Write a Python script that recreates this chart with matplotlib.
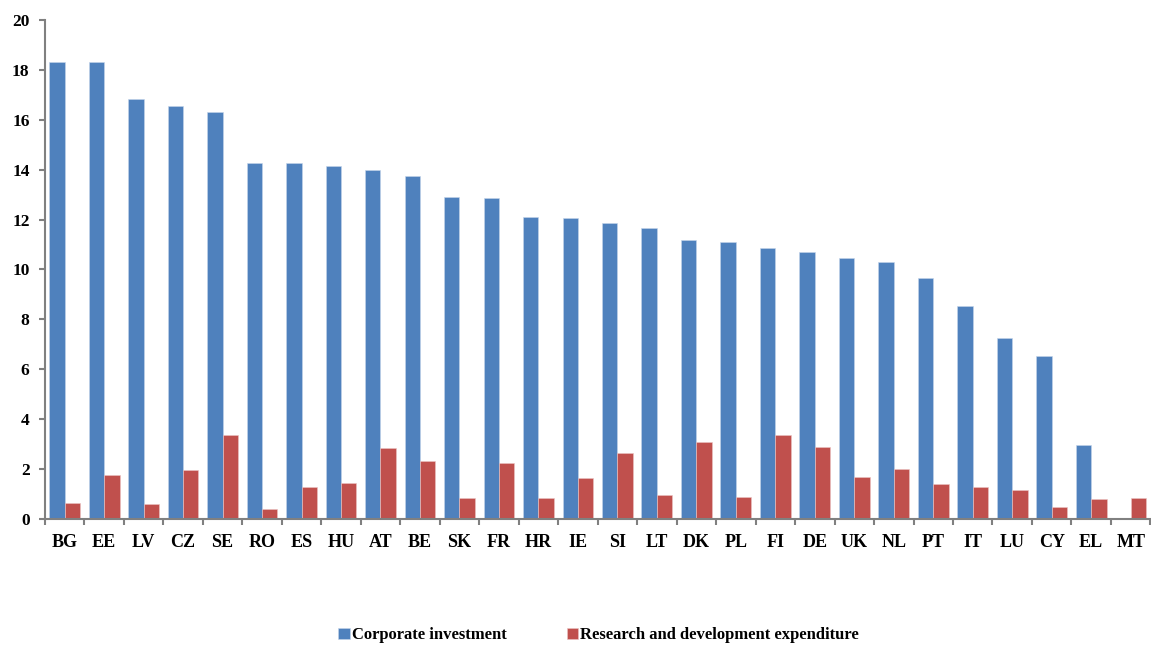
import numpy as np
import matplotlib.pyplot as plt

# 国家代码与两组数值
countries = ["BG", "EE", "LV", "CZ", "SE", "RO", "ES", "HU", "AT", "BE", "SK", "FR", "HR", "IE",
             "SI", "LT", "DK", "PL", "FI", "DE", "UK", "NL", "PT", "IT", "LU", "CY", "EL", "MT"]
corporate_investment = [18.3, 18.3, 16.85, 16.55, 16.3, 14.25, 14.25, 14.15, 14.0, 13.75, 12.9, 12.85, 12.1, 12.05,
                        11.85, 11.65, 11.2, 11.1, 10.85, 10.7, 10.45, 10.3, 9.65, 8.55, 7.25, 6.55, 2.95, 0.0]
rd_expenditure = [0.64, 1.75, 0.60, 1.95, 3.37, 0.38, 1.26, 1.44, 2.86, 2.32, 0.84, 2.26, 0.84, 1.62,
                  2.63, 0.97, 3.10, 0.89, 3.37, 2.90, 1.66, 1.99, 1.38, 1.29, 1.16, 0.47, 0.79, 0.84]
y_ticks = [0, 2, 4, 6, 8, 10, 12, 14, 16, 18, 20]

plt.rcParams['font.family'] = ['Liberation Serif', 'DejaVu Serif']
plt.rcParams['font.weight'] = 'bold'

fig = plt.figure(figsize=(11.51, 6.47), dpi=100)
ax = fig.add_axes([0.039, 0.198, 0.9605, 0.771])

x = np.arange(len(countries))
w = 0.39
ax.bar(x - w / 2, corporate_investment, width=w, color='#4F81BD', edgecolor='#C5D5EA', linewidth=0.4,
       label="Corporate investment")
ax.bar(x + w / 2, rd_expenditure, width=w, color='#C0504D', edgecolor='#EBC5C4', linewidth=0.4,
       label="Research and development expenditure")

ax.set_xlim(-0.5, len(countries) - 0.5)
ax.set_ylim(0, 20)
ax.set_yticks(y_ticks)
ax.set_xticks(x)
ax.set_xticklabels(countries, fontsize=13, fontweight='bold')
ax.set_xticks(np.arange(len(countries) + 1) - 0.5, minor=True)
ax.tick_params(axis='x', which='major', length=0, pad=11)
ax.tick_params(axis='x', which='minor', length=4, width=1.5, color='#808080', direction='out')
ax.tick_params(axis='y', length=4, width=1.5, color='#808080', pad=7, labelsize=12.5)
for lab in ax.get_yticklabels():
    lab.set_fontweight('bold')

for s in ['top', 'right']:
    ax.spines[s].set_visible(False)
for s in ['left', 'bottom']:
    ax.spines[s].set_color('#808080')
    ax.spines[s].set_linewidth(1.5)

fig.legend(loc='center', bbox_to_anchor=(0.52, 0.018), ncol=2, frameon=False,
           prop={'size': 12, 'weight': 'bold'}, handlelength=0.7, handleheight=0.7,
           handletextpad=0.1, columnspacing=3.6)

fig.savefig("out.png", dpi=100)
